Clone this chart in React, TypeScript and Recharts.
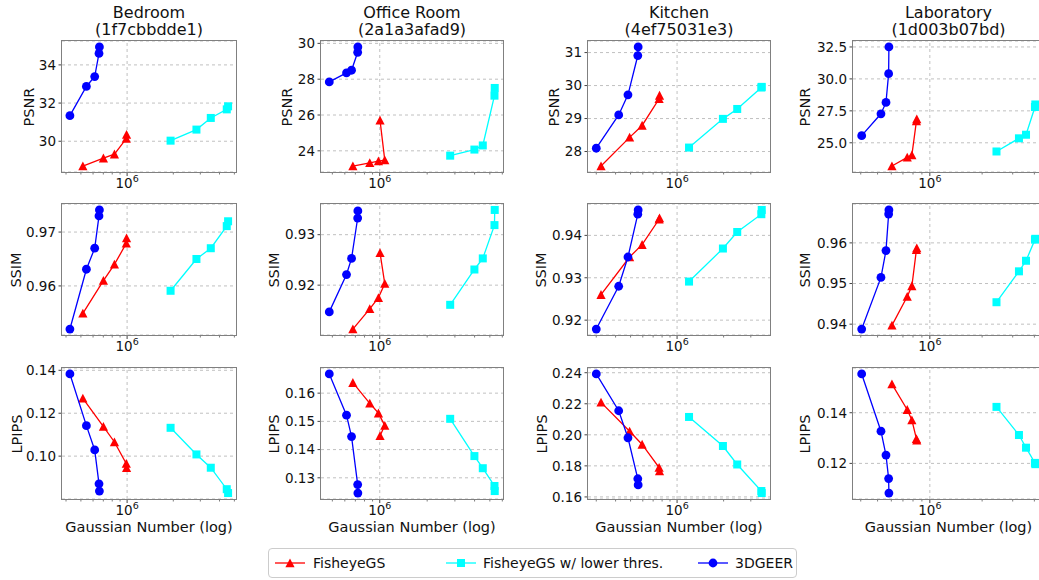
import React from "react"
import { ScatterChart, Scatter, XAxis, YAxis, CartesianGrid, ReferenceLine } from "recharts"

const scenes = ["Bedroom", "Office Room", "Kitchen", "Laboratory"]
const sceneIds = ["(1f7cbbdde1)", "(2a1a3afad9)", "(4ef75031e3)", "(1d003b07bd)"]
const metrics = ["PSNR", "SSIM", "LPIPS"]
const methods = ["FisheyeGS", "FisheyeGS w/ lower thres.", "3DGEER"]

// gaussian counts, one row per scene
const gaussFisheye = [
  [5.15e5, 7.01e5, 8.27e5, 9.88e5, 9.92e5],
  [6.75e5, 8.64e5, 9.81e5, 1.076e6, 1.004e6],
  [3.22e5, 4.93e5, 5.94e5, 7.65e5, 7.7e5],
  [6.05e5, 7.41e5, 7.88e5, 8.37e5, 8.41e5],
]
const gaussLower = [
  [1.92e6, 2.83e6, 3.51e6, 4.46e6, 4.55e6],
  [2.8e6, 3.99e6, 4.51e6, 5.35e6, 5.37e6],
  [1.195e6, 1.98e6, 2.45e6, 3.51e6, 3.53e6],
  [2.42e6, 3.26e6, 3.58e6, 4.03e6, 4.05e6],
]
const gaussGeer = [
  [4.24e5, 5.43e5, 6.15e5, 6.56e5, 6.6e5],
  [4.78e5, 6.15e5, 6.62e5, 7.24e5, 7.26e5],
  [3.0e5, 4.19e5, 4.81e5, 5.57e5, 5.6e5],
  [4.05e5, 5.23e5, 5.59e5, 5.79e5, 5.81e5],
]

const psnrFisheye = [
  [28.7, 29.11, 29.32, 30.14, 30.35],
  [23.15, 23.33, 23.43, 23.48, 25.7],
  [27.56, 28.43, 28.79, 29.6, 29.7],
  [23.18, 23.86, 24.04, 26.7, 26.85],
]
const psnrLower = [
  [30.03, 30.61, 31.22, 31.67, 31.83],
  [23.73, 24.07, 24.3, 27.08, 27.51],
  [28.12, 28.99, 29.29, 29.94, 29.96],
  [24.32, 25.35, 25.63, 27.8, 28.0],
]
const psnrGeer = [
  [31.34, 32.87, 33.39, 34.6, 34.94],
  [27.85, 28.35, 28.5, 29.5, 29.8],
  [28.1, 29.11, 29.72, 30.91, 31.17],
  [25.56, 27.27, 28.16, 30.41, 32.5],
]

const ssimFisheye = [
  [0.9549, 0.961, 0.964, 0.9679, 0.9689],
  [0.9113, 0.9153, 0.9175, 0.9203, 0.9264],
  [0.926, 0.9349, 0.9378, 0.9438, 0.9441],
  [0.9397, 0.9468, 0.9494, 0.9583, 0.9587],
]
const ssimLower = [
  [0.9591, 0.965, 0.967, 0.9711, 0.972],
  [0.9161, 0.9231, 0.9253, 0.9319, 0.9349],
  [0.9291, 0.9369, 0.9408, 0.945, 0.946],
  [0.9454, 0.953, 0.9556, 0.9608, 0.961],
]
const ssimGeer = [
  [0.952, 0.9631, 0.967, 0.973, 0.9741],
  [0.9147, 0.9221, 0.9253, 0.9333, 0.9347],
  [0.9179, 0.928, 0.9349, 0.945, 0.946],
  [0.9388, 0.9515, 0.9581, 0.9671, 0.9681],
]

const lpipsFisheye = [
  [0.1269, 0.1138, 0.1066, 0.0965, 0.0946],
  [0.1637, 0.1564, 0.1529, 0.1485, 0.1449],
  [0.2209, 0.2023, 0.1938, 0.1789, 0.1766],
  [0.1513, 0.1412, 0.1371, 0.1297, 0.1291],
]
const lpipsLower = [
  [0.1132, 0.1008, 0.0946, 0.0846, 0.0828],
  [0.1509, 0.1377, 0.1334, 0.1271, 0.1253],
  [0.2115, 0.1928, 0.1809, 0.1638, 0.1625],
  [0.1423, 0.1312, 0.1262, 0.1202, 0.1197],
]
const lpipsGeer = [
  [0.1383, 0.1142, 0.1029, 0.0871, 0.0837],
  [0.1668, 0.1522, 0.1446, 0.1276, 0.1246],
  [0.2392, 0.2155, 0.1981, 0.1717, 0.1677],
  [0.1553, 0.1327, 0.1233, 0.114, 0.1083],
]

const psnrTicks = [[30, 32, 34], [24, 26, 28, 30], [28, 29, 30, 31], [25, 27.5, 30, 32.5]]
const ssimTicks = [[0.96, 0.97], [0.92, 0.93], [0.92, 0.93, 0.94], [0.94, 0.95, 0.96]]
const lpipsTicks = [[0.1, 0.12, 0.14], [0.13, 0.14, 0.15, 0.16], [0.16, 0.18, 0.2, 0.22, 0.24], [0.12, 0.14]]
const psnrDecimals = [0, 0, 0, 1]

const majorTick = 1e6
const minorSteps = [2, 3, 4, 5, 6, 7, 8, 9]
const xLabel = "Gaussian Number (log)"

const gauss = [gaussFisheye, gaussLower, gaussGeer]
const metricValues = [
  [psnrFisheye, psnrLower, psnrGeer],
  [ssimFisheye, ssimLower, ssimGeer],
  [lpipsFisheye, lpipsLower, lpipsGeer],
]
const metricTicks = [psnrTicks, ssimTicks, lpipsTicks]

// layout (px)
const COLORS = ["#ff0000", "#00ffff", "#0000ff"]
const colLeft = [62, 321, 588, 853]
const colWidth = [174, 182, 182, 191]
const rowTop = [41, 204, 368]
const PLOT_H = 131
const yLabelX = [
  [29, 16, 17],
  [287, 274, 274],
  [554, 541, 542],
  [805, 805, 805],
]
const GRID = "#b0b0b0"
const FRAME = "#808080"

function padLinear(vals: number[]): [number, number] {
  const lo = Math.min(...vals)
  const hi = Math.max(...vals)
  const d = (hi - lo) * 0.05
  return [lo - d, hi + d]
}

function padLog(vals: number[]): [number, number] {
  const lo = Math.log10(Math.min(...vals))
  const hi = Math.log10(Math.max(...vals))
  const d = (hi - lo) * 0.05
  return [10 ** (lo - d), 10 ** (hi + d)]
}

const Tri = (p: any) => (
  <polygon
    points={`${p.cx},${p.cy - 4.6} ${p.cx - 4.6},${p.cy + 4.2} ${p.cx + 4.6},${p.cy + 4.2}`}
    fill={COLORS[0]}
  />
)
const Sq = (p: any) => <rect x={p.cx - 4} y={p.cy - 4} width={8} height={8} fill={COLORS[1]} />
const Dot = (p: any) => <circle cx={p.cx} cy={p.cy} r={4.4} fill={COLORS[2]} />
const shapes = [Tri, Sq, Dot]

function XTick(props: any) {
  const { x, y, payload } = props
  const major = payload.value === majorTick
  return (
    <g>
      <line x1={x} x2={x} y1={y} y2={y + (major ? 4 : 2.5)} stroke="#444" strokeWidth={major ? 1 : 0.7} />
      {major && (
        <text x={x} y={y + 16} textAnchor="middle" fontSize={13.5} fill="#111">
          10
          <tspan dy={-6} fontSize={9.5}>
            6
          </tspan>
        </text>
      )}
    </g>
  )
}

function Panel({ s, m }: { s: number; m: number }) {
  const left = colLeft[s]
  const top = rowTop[m]
  const w = colWidth[s]
  const series = [0, 1, 2].map((k) =>
    gauss[k][s].map((x, i) => ({ x, y: metricValues[m][k][s][i] }))
  )
  const allX = series.flat().map((d) => d.x)
  const allY = series.flat().map((d) => d.y)
  const xDom = padLog(allX)
  const yDom = padLinear(allY)
  const xTicks = [1e5, 1e6]
    .flatMap((dec) => [...minorSteps.map((k) => k * dec), dec * 10])
    .filter((v, i, a) => a.indexOf(v) === i && v >= xDom[0] && v <= xDom[1])
  const dec = m === 0 ? psnrDecimals[s] : 2

  return (
    <>
      <div style={{ position: "absolute", left: left - 60, top: top - 10 }}>
        <ScatterChart width={w + 70} height={PLOT_H + 40} margin={{ top: 10, right: 10, bottom: 0, left: 0 }}>
          <CartesianGrid vertical={false} stroke={GRID} strokeDasharray="3 3" strokeWidth={0.8} />
          <XAxis
            type="number"
            dataKey="x"
            scale="log"
            domain={xDom}
            allowDataOverflow
            ticks={xTicks}
            interval={0}
            tick={(p: any) => <XTick {...p} />}
            tickSize={0}
            tickMargin={0}
            axisLine={false}
            tickLine={false}
            height={30}
          />
          <YAxis
            type="number"
            dataKey="y"
            domain={yDom}
            allowDataOverflow
            ticks={metricTicks[m][s]}
            interval={0}
            width={60}
            tickSize={3.5}
            tickMargin={2.5}
            axisLine={false}
            tickLine={{ stroke: "#444" }}
            tick={{ fontSize: 13.5, fill: "#111" }}
            tickFormatter={(v: number) => v.toFixed(dec)}
          />
          <ReferenceLine x={majorTick} stroke={GRID} strokeDasharray="3 3" strokeWidth={0.8} />
          {series.map((data, k) => (
            <Scatter
              key={methods[k]}
              name={methods[k]}
              data={data}
              fill={COLORS[k]}
              line={{ stroke: COLORS[k], strokeWidth: 1.3 }}
              lineType="joint"
              shape={shapes[k]}
              isAnimationActive={false}
            />
          ))}
        </ScatterChart>
      </div>
      <div
        style={{
          position: "absolute",
          left: left - 0.75,
          top: top - 0.75,
          width: w + 1.5,
          height: PLOT_H + 1.5,
          border: `1.5px solid ${FRAME}`,
          boxSizing: "border-box",
          pointerEvents: "none",
        }}
      />
      <div
        style={{
          position: "absolute",
          left: yLabelX[s][m],
          top: top + PLOT_H / 2,
          transform: "translate(-50%, -50%) rotate(-90deg)",
          fontSize: 14.5,
          whiteSpace: "nowrap",
          lineHeight: "16px",
        }}
      >
        {metrics[m]}
      </div>
      {m === 0 && (
        <div
          style={{
            position: "absolute",
            left: left + w / 2 - 100,
            width: 200,
            top: 4,
            textAlign: "center",
            fontSize: 16,
            lineHeight: "17px",
          }}
        >
          {scenes[s]}
          <br />
          {sceneIds[s]}
        </div>
      )}
      {m === 2 && (
        <div
          style={{
            position: "absolute",
            left: left + w / 2 - 110,
            width: 220,
            top: 519,
            textAlign: "center",
            fontSize: 14.5,
            lineHeight: "16px",
            whiteSpace: "nowrap",
          }}
        >
          {xLabel}
        </div>
      )}
    </>
  )
}

const legendPos = [
  { marker: 290, text: 313 },
  { marker: 461, text: 483 },
  { marker: 713, text: 735 },
]

function Legend() {
  return (
    <>
      <div
        style={{
          position: "absolute",
          left: 268,
          top: 548,
          width: 529,
          height: 30,
          border: "1px solid #cccccc",
          borderRadius: 4,
          boxSizing: "border-box",
        }}
      />
      {methods.map((name, k) => {
        const Shape = shapes[k]
        const p = legendPos[k]
        return (
          <React.Fragment key={name}>
            <svg style={{ position: "absolute", left: p.marker - 15, top: 553 }} width={30} height={20}>
              <line x1={0} x2={30} y1={10} y2={10} stroke={COLORS[k]} strokeWidth={1.3} />
              <Shape cx={15} cy={10} />
            </svg>
            <div
              style={{
                position: "absolute",
                left: p.text,
                top: 555,
                fontSize: 14,
                lineHeight: "16px",
                whiteSpace: "nowrap",
              }}
            >
              {name}
            </div>
          </React.Fragment>
        )
      })}
    </>
  )
}

export default function App() {
  return (
    <div
      style={{
        position: "fixed",
        left: 0,
        top: 0,
        width: 1039,
        height: 580,
        overflow: "hidden",
        background: "#fff",
        fontFamily: "'DejaVu Sans', sans-serif",
        color: "#111",
      }}
    >
      {metrics.map((_, m) => scenes.map((__, s) => <Panel key={`${s}-${m}`} s={s} m={m} />))}
      <Legend />
    </div>
  )
}
